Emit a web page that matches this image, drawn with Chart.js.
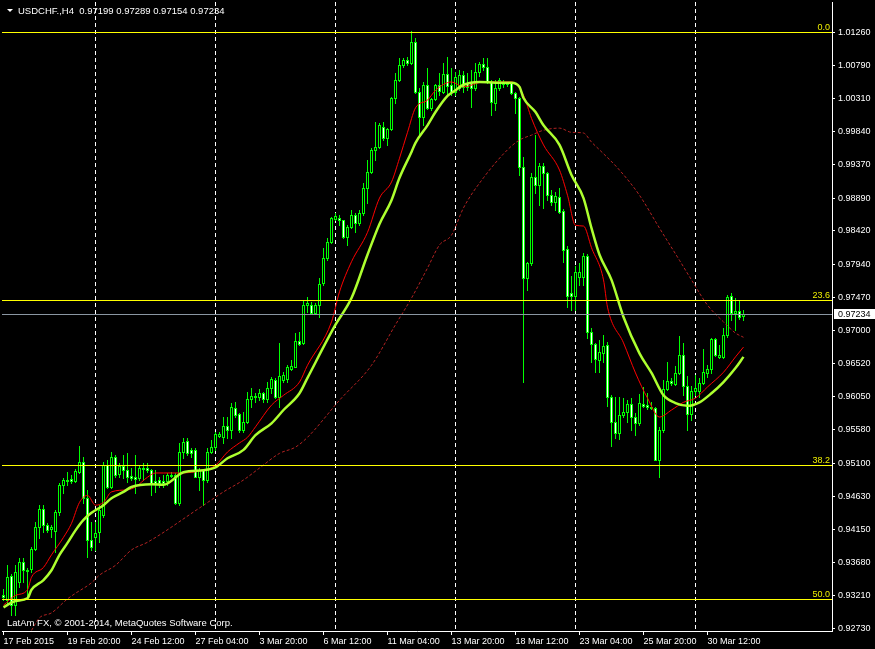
<!DOCTYPE html>
<html>
<head>
<meta charset="utf-8">
<script src="https://cdn.jsdelivr.net/npm/chart.js@4.4.1/dist/chart.umd.min.js"></script>
<style>
    html, body { margin: 0; padding: 0; background: #000; }
    #wrap { width: 875px; height: 649px; }
</style>
</head>
<body>
<div id="wrap"><canvas id="priceChart" width="875" height="649"></canvas></div>
<script>
const symbolName = 'USDCHF.,H4';
const copyrightText = 'LatAm FX, \u00a9 2001-2014, MetaQuotes Software Corp.';

// H4 candles, one entry per bar
const open = [
    0.9321, 0.9314, 0.9349, 0.9307, 0.9340, 0.9369, 0.9357, 0.9359, 0.9387, 0.9419,
    0.9444, 0.9421, 0.9416, 0.9413, 0.9440, 0.9479, 0.9486, 0.9487, 0.9484, 0.9497,
    0.9512, 0.9460, 0.9400, 0.9404, 0.9411, 0.9436, 0.9507, 0.9476, 0.9519, 0.9494,
    0.9506, 0.9500, 0.9492, 0.9490, 0.9489, 0.9503, 0.9503, 0.9500, 0.9484, 0.9486,
    0.9484, 0.9484, 0.9493, 0.9493, 0.9453, 0.9526, 0.9542, 0.9529, 0.9529, 0.9490,
    0.9500, 0.9486, 0.9526, 0.9533, 0.9549, 0.9547, 0.9563, 0.9557, 0.9589, 0.9580,
    0.9557, 0.9569, 0.9602, 0.9606, 0.9604, 0.9610, 0.9602, 0.9617, 0.9629, 0.9604,
    0.9629, 0.9630, 0.9645, 0.9647, 0.9685, 0.9682, 0.9736, 0.9736, 0.9725, 0.9736,
    0.9767, 0.9803, 0.9826, 0.9859, 0.9860, 0.9857, 0.9833, 0.9848, 0.9865, 0.9853,
    0.9868, 0.9903, 0.9926, 0.9958, 0.9962, 0.9991, 0.9975, 0.9988, 1.0032, 1.0058,
    1.0079, 1.0086, 1.0082, 1.0112, 1.0041, 1.0005, 1.0051, 1.0018, 1.0031, 1.0051,
    1.0041, 1.0066, 1.0051, 1.0041, 1.0046, 1.0065, 1.0054, 1.0054, 1.0046, 1.0069,
    1.0081, 1.0076, 1.0055, 1.0025, 1.0046, 1.0055, 1.0054, 1.0054, 1.0039, 1.0032,
    0.9933, 0.9775, 0.9796, 0.9919, 0.9908, 0.9935, 0.9925, 0.9893, 0.9883, 0.9890,
    0.9870, 0.9816, 0.9753, 0.9749, 0.9776, 0.9776, 0.9806, 0.9698, 0.9680, 0.9658,
    0.9667, 0.9679, 0.9605, 0.9569, 0.9553, 0.9579, 0.9583, 0.9594, 0.9576, 0.9567,
    0.9594, 0.9593, 0.9590, 0.9589, 0.9514, 0.9557, 0.9616, 0.9627, 0.9623, 0.9639,
    0.9665, 0.9620, 0.9580, 0.9613, 0.9613, 0.9625, 0.9639, 0.9645, 0.9687, 0.9662,
    0.9662, 0.9693, 0.9749, 0.9725, 0.9727, 0.97199
];
const high = [
    0.9330, 0.9364, 0.9351, 0.9364, 0.9374, 0.9374, 0.9360, 0.9390, 0.9426, 0.9450,
    0.9450, 0.9424, 0.9421, 0.9443, 0.9482, 0.9489, 0.9497, 0.9493, 0.9502, 0.9534,
    0.9519, 0.9472, 0.9426, 0.9426, 0.9450, 0.9512, 0.9514, 0.9526, 0.9522, 0.9510,
    0.9522, 0.9524, 0.9503, 0.9522, 0.9507, 0.9510, 0.9510, 0.9502, 0.9500, 0.9490,
    0.9493, 0.9496, 0.9497, 0.9496, 0.9539, 0.9546, 0.9546, 0.9532, 0.9532, 0.9503,
    0.9502, 0.9532, 0.9543, 0.9555, 0.9555, 0.9576, 0.9576, 0.9596, 0.9597, 0.9582,
    0.9583, 0.9612, 0.9617, 0.9610, 0.9616, 0.9612, 0.9626, 0.9633, 0.9632, 0.9682,
    0.9640, 0.9650, 0.9657, 0.9696, 0.9697, 0.9743, 0.9748, 0.9740, 0.9739, 0.9775,
    0.9818, 0.9832, 0.9862, 0.9868, 0.9865, 0.9858, 0.9850, 0.9872, 0.9868, 0.9872,
    0.9911, 0.9943, 0.9961, 0.9998, 0.9996, 0.9998, 0.9989, 1.0034, 1.0068, 1.0089,
    1.0089, 1.0091, 1.0128, 1.0118, 1.0046, 1.0055, 1.0075, 1.0032, 1.0052, 1.0068,
    1.0082, 1.0090, 1.0075, 1.0069, 1.0072, 1.0071, 1.0068, 1.0072, 1.0082, 1.0084,
    1.0089, 1.0089, 1.0058, 1.0058, 1.0061, 1.0058, 1.0055, 1.0055, 1.0041, 1.0034,
    0.9948, 0.9798, 0.9925, 0.9979, 0.9939, 0.9939, 0.9926, 0.9901, 0.9898, 0.9903,
    0.9873, 0.9820, 0.9778, 0.9792, 0.9796, 0.9810, 0.9809, 0.9703, 0.9682, 0.9686,
    0.9693, 0.9683, 0.9607, 0.9604, 0.9604, 0.9603, 0.9600, 0.9603, 0.9582, 0.9609,
    0.9619, 0.9610, 0.9597, 0.9590, 0.9562, 0.9629, 0.9655, 0.9632, 0.9649, 0.9692,
    0.9682, 0.9635, 0.9620, 0.9636, 0.9632, 0.9673, 0.9650, 0.9689, 0.9689, 0.9679,
    0.9703, 0.9750, 0.9753, 0.9746, 0.9743, 0.97289
];
const low = [
    0.9314, 0.9307, 0.9293, 0.9293, 0.9333, 0.9340, 0.9317, 0.9354, 0.9386, 0.9403,
    0.9411, 0.9411, 0.9404, 0.9383, 0.9436, 0.9467, 0.9479, 0.9482, 0.9483, 0.9496,
    0.9453, 0.9376, 0.9386, 0.9386, 0.9397, 0.9433, 0.9474, 0.9474, 0.9490, 0.9490,
    0.9489, 0.9483, 0.9486, 0.9467, 0.9486, 0.9486, 0.9497, 0.9464, 0.9469, 0.9476,
    0.9476, 0.9479, 0.9490, 0.9451, 0.9450, 0.9517, 0.9522, 0.9519, 0.9490, 0.9472,
    0.9450, 0.9483, 0.9524, 0.9529, 0.9547, 0.9539, 0.9546, 0.9546, 0.9576, 0.9555,
    0.9555, 0.9567, 0.9590, 0.9597, 0.9600, 0.9597, 0.9597, 0.9610, 0.9603, 0.9590,
    0.9626, 0.9626, 0.9643, 0.9647, 0.9679, 0.9680, 0.9726, 0.9725, 0.9723, 0.9719,
    0.9765, 0.9801, 0.9825, 0.9857, 0.9850, 0.9832, 0.9822, 0.9846, 0.9840, 0.9850,
    0.9865, 0.9882, 0.9925, 0.9943, 0.9961, 0.9972, 0.9965, 0.9986, 1.0025, 1.0056,
    1.0076, 1.0079, 1.0080, 1.0039, 0.9979, 0.9994, 1.0016, 1.0015, 1.0029, 1.0036,
    1.0039, 1.0036, 1.0036, 1.0036, 1.0043, 1.0041, 1.0043, 1.0019, 1.0043, 1.0064,
    1.0072, 1.0054, 1.0008, 1.0015, 1.0043, 1.0048, 1.0049, 1.0038, 1.0011, 0.9922,
    0.9626, 0.9758, 0.9793, 0.9896, 0.9879, 0.9875, 0.9886, 0.9879, 0.9872, 0.9868,
    0.9798, 0.9733, 0.9729, 0.9729, 0.9765, 0.9765, 0.9689, 0.9655, 0.9640, 0.9640,
    0.9655, 0.9592, 0.9534, 0.9546, 0.9544, 0.9576, 0.9569, 0.9557, 0.9550, 0.9565,
    0.9590, 0.9587, 0.9587, 0.9514, 0.9490, 0.9555, 0.9614, 0.9622, 0.9622, 0.9637,
    0.9607, 0.9557, 0.9572, 0.9607, 0.9605, 0.9623, 0.9633, 0.9639, 0.9663, 0.9660,
    0.9660, 0.9690, 0.9715, 0.9700, 0.9716, 0.97154
];
const close = [
    0.9318, 0.9347, 0.9307, 0.9354, 0.9369, 0.9357, 0.9356, 0.9387, 0.9419, 0.9444,
    0.9421, 0.9414, 0.9419, 0.9440, 0.9479, 0.9486, 0.9484, 0.9484, 0.9499, 0.9512,
    0.9460, 0.9400, 0.9390, 0.9410, 0.9443, 0.9507, 0.9476, 0.9519, 0.9493, 0.9506,
    0.9500, 0.9490, 0.9489, 0.9487, 0.9503, 0.9502, 0.9500, 0.9482, 0.9482, 0.9482,
    0.9482, 0.9493, 0.9492, 0.9453, 0.9526, 0.9540, 0.9524, 0.9524, 0.9490, 0.9500,
    0.9486, 0.9526, 0.9533, 0.9552, 0.9552, 0.9563, 0.9557, 0.9590, 0.9579, 0.9557,
    0.9569, 0.9602, 0.9606, 0.9604, 0.9610, 0.9602, 0.9617, 0.9630, 0.9604, 0.9635,
    0.9636, 0.9647, 0.9649, 0.9685, 0.9680, 0.9736, 0.9739, 0.9725, 0.9736, 0.9766,
    0.9803, 0.9826, 0.9860, 0.9863, 0.9857, 0.9833, 0.9848, 0.9865, 0.9853, 0.9868,
    0.9903, 0.9926, 0.9958, 0.9962, 0.9993, 0.9975, 0.9988, 1.0032, 1.0058, 1.0079,
    1.0086, 1.0082, 1.0112, 1.0041, 1.0005, 1.0051, 1.0018, 1.0031, 1.0051, 1.0042,
    1.0066, 1.0049, 1.0041, 1.0062, 1.0065, 1.0048, 1.0048, 1.0046, 1.0069, 1.0081,
    1.0076, 1.0055, 1.0026, 1.0046, 1.0058, 1.0052, 1.0052, 1.0039, 1.0032, 0.9933,
    0.9775, 0.9796, 0.9919, 0.9908, 0.9935, 0.9925, 0.9893, 0.9883, 0.9892, 0.9869,
    0.9815, 0.9749, 0.9749, 0.9783, 0.9783, 0.9806, 0.9698, 0.9680, 0.9659, 0.9669,
    0.9677, 0.9605, 0.9569, 0.9553, 0.9579, 0.9583, 0.9594, 0.9576, 0.9567, 0.9596,
    0.9592, 0.9590, 0.9589, 0.9515, 0.9557, 0.9616, 0.9627, 0.9625, 0.9639, 0.9665,
    0.9620, 0.9580, 0.9613, 0.9617, 0.9625, 0.9640, 0.9645, 0.9687, 0.9665, 0.9665,
    0.9693, 0.9747, 0.9725, 0.9727, 0.9719, 0.97234
];

// moving averages, read at selected bars
const maGreenIdx = [0, 3, 6, 7, 10, 12, 14, 16, 18, 20, 22, 25, 27, 30, 32, 37, 40, 45, 50, 53, 56, 60, 63, 67, 70, 74, 76, 83, 87, 91, 94, 97, 99, 102, 103, 106, 108, 111, 113, 115, 119, 123, 127, 129, 130, 133, 135, 139, 142, 145, 147, 149, 152, 155, 159, 162, 165, 168, 171, 174, 177, 180, 183, 185];
const maGreenVal = [0.9304, 0.9313, 0.9317, 0.9329, 0.9343, 0.9357, 0.9379, 0.9396, 0.9414, 0.9429, 0.9439, 0.9450, 0.9460, 0.9469, 0.9476, 0.9480, 0.9479, 0.9497, 0.9500, 0.9504, 0.9517, 0.9529, 0.9550, 0.9567, 0.9586, 0.9610, 0.9632, 0.9708, 0.9746, 0.9808, 0.9852, 0.9886, 0.9918, 0.9955, 0.9968, 0.9993, 1.0012, 1.0035, 1.0043, 1.0051, 1.0055, 1.0054, 1.0054, 1.0048, 1.0032, 1.0012, 0.9993, 0.9965, 0.9922, 0.9889, 0.9846, 0.9808, 0.9772, 0.9719, 0.9667, 0.9639, 0.9607, 0.9596, 0.9592, 0.9597, 0.9610, 0.9626, 0.9646, 0.9662];

const maRedIdx = [0, 3, 6, 7, 10, 12, 15, 17, 19, 21, 23, 25, 27, 31, 33, 36, 38, 40, 44, 50, 53, 56, 59, 61, 63, 67, 70, 74, 76, 82, 84, 87, 91, 94, 97, 99, 101, 103, 106, 108, 112, 115, 120, 127, 130, 132, 135, 139, 141, 143, 145, 147, 150, 151, 155, 158, 161, 164, 167, 170, 173, 176, 180, 183, 185];
const maRedVal = [0.9307, 0.9321, 0.9329, 0.9347, 0.9361, 0.9379, 0.9404, 0.9424, 0.9454, 0.9464, 0.9450, 0.9454, 0.9469, 0.9472, 0.9476, 0.9490, 0.9496, 0.9496, 0.9496, 0.9500, 0.9507, 0.9526, 0.9539, 0.9547, 0.9562, 0.9593, 0.9607, 0.9626, 0.9650, 0.9712, 0.9755, 0.9798, 0.9840, 0.9889, 0.9912, 0.9946, 0.9983, 1.0018, 1.0029, 1.0043, 1.0055, 1.0048, 1.0055, 1.0055, 1.0036, 1.0003, 0.9965, 0.9929, 0.9893, 0.9850, 0.9849, 0.9818, 0.9772, 0.9733, 0.9682, 0.9639, 0.9603, 0.9576, 0.9586, 0.9597, 0.9603, 0.9619, 0.9640, 0.9662, 0.9676];

const maSlowIdx = [7, 9, 12, 16, 18, 22, 24, 28, 32, 36, 49, 55, 60, 64, 69, 73, 76, 84, 92, 98, 102, 106, 109, 112, 115, 120, 126, 129, 132, 135, 139, 142, 145, 147, 149, 154, 159, 164, 169, 172, 176, 180, 183, 185];
const maSlowVal = [0.9271, 0.9289, 0.9296, 0.9316, 0.9324, 0.9339, 0.9350, 0.9364, 0.9386, 0.9397, 0.9446, 0.9469, 0.9486, 0.9503, 0.9524, 0.9533, 0.9547, 0.9600, 0.9650, 0.9708, 0.9746, 0.9789, 0.9822, 0.9836, 0.9875, 0.9918, 0.9958, 0.9972, 0.9979, 0.9986, 0.9989, 0.9983, 0.9982, 0.9969, 0.9958, 0.9929, 0.9893, 0.9846, 0.9800, 0.9772, 0.9736, 0.9712, 0.9696, 0.9690];

const priceTicks = [0.92730, 0.93210, 0.93680, 0.94150, 0.94630, 0.95100, 0.95580, 0.96050, 0.96520, 0.97000, 0.97470, 0.97940, 0.98420, 0.98890, 0.99370, 0.99840, 1.00310, 1.00790, 1.01260];
const timeTickIdx = [0, 16, 32, 48, 64, 80, 96, 112, 128, 144, 160, 176];
const timeTickLabels = ['17 Feb 2015', '19 Feb 20:00', '24 Feb 12:00', '27 Feb 04:00', '3 Mar 20:00', '6 Mar 12:00', '11 Mar 04:00', '13 Mar 20:00', '18 Mar 12:00', '23 Mar 04:00', '25 Mar 20:00', '30 Mar 12:00'];
const weekGridIdx = [23, 53, 83, 113, 143, 173];

const fibLabels = ['0.0', '23.6', '38.2', '50.0'];
const fibPrices = [1.01265, 0.97439, 0.95072, 0.93159];

const lastIdx = close.length - 1;
const axisFont = { family: 'Liberation Sans', size: 9 };

function toPoints(idx, val) {
    return idx.map((v, i) => ({ x: v, y: val[i] }));
}

const candlePlugin = {
    id: 'candles',
    beforeDatasetsDraw(chart) {
        const { ctx, chartArea, scales } = chart;
        const x = scales.x, y = scales.y;
        ctx.save();

        ctx.strokeStyle = '#ffffff';
        ctx.lineWidth = 1;
        ctx.setLineDash([4, 3]);
        weekGridIdx.forEach(i => {
            const px = Math.floor(x.getPixelForValue(i)) + 0.5;
            ctx.beginPath();
            ctx.moveTo(px, chartArea.top);
            ctx.lineTo(px, chartArea.bottom);
            ctx.stroke();
        });
        ctx.setLineDash([]);

        for (let i = 0; i < close.length; i++) {
            const cx = Math.floor(x.getPixelForValue(i));
            const yo = Math.round(y.getPixelForValue(open[i]));
            const yc = Math.round(y.getPixelForValue(close[i]));
            const yh = Math.round(y.getPixelForValue(high[i]));
            const yl = Math.round(y.getPixelForValue(low[i]));
            const top = Math.min(yo, yc), bot = Math.max(yo, yc);
            ctx.fillStyle = '#00ff00';
            ctx.fillRect(cx, yh, 1, yl - yh + 1);
            ctx.fillRect(cx - 1, top, 3, bot - top + 1);
            if (bot - top >= 2) {
                ctx.fillStyle = close[i] < open[i] ? '#ffffff' : '#000000';
                ctx.fillRect(cx, top + 1, 1, bot - top - 1);
            }
        }
        ctx.restore();
    },
    afterDatasetsDraw(chart) {
        const { ctx, chartArea, scales } = chart;
        const y = scales.y;
        ctx.save();
        ctx.lineWidth = 1;

        ctx.font = '9px "Liberation Sans"';
        ctx.textAlign = 'right';
        ctx.textBaseline = 'alphabetic';
        fibPrices.forEach((p, i) => {
            const py = Math.round(y.getPixelForValue(p)) + 0.5;
            ctx.strokeStyle = '#ffff00';
            ctx.beginPath();
            ctx.moveTo(chartArea.left, py);
            ctx.lineTo(chartArea.right, py);
            ctx.stroke();
            ctx.fillStyle = '#f0f000';
            ctx.fillText(fibLabels[i], chartArea.right - 2, py - 2.5);
        });

        const cp = Math.round(y.getPixelForValue(close[lastIdx])) + 0.5;
        ctx.strokeStyle = '#8a96a2';
        ctx.beginPath();
        ctx.moveTo(chartArea.left, cp);
        ctx.lineTo(chartArea.right, cp);
        ctx.stroke();
        ctx.restore();
    },
    afterDraw(chart) {
        const { ctx, chartArea, scales } = chart;
        const y = scales.y;
        ctx.save();
        const cp = Math.round(y.getPixelForValue(close[lastIdx]));
        ctx.fillStyle = '#ffffff';
        ctx.fillRect(chartArea.right + 2, cp - 5, 875 - chartArea.right - 2, 10);
        ctx.fillStyle = '#000000';
        ctx.font = '9px "Liberation Sans"';
        ctx.textBaseline = 'middle';
        ctx.textAlign = 'left';
        ctx.fillText(close[lastIdx].toFixed(5), chartArea.right + 6, cp + 0.5);

        ctx.fillStyle = '#ffffff';
        ctx.beginPath();
        ctx.moveTo(7, 9);
        ctx.lineTo(13, 9);
        ctx.lineTo(10, 12);
        ctx.closePath();
        ctx.fill();
        ctx.font = '9.5px "Liberation Sans"';
        ctx.textBaseline = 'alphabetic';
        const head = symbolName + '  ' + [open[lastIdx], high[lastIdx], low[lastIdx], close[lastIdx]].map(v => v.toFixed(5)).join(' ');
        ctx.fillText(head, 18, 14);
        ctx.fillText(copyrightText, 7, 626);
        ctx.restore();
    }
};

const chartEl = document.getElementById('priceChart');

new Chart(chartEl, {
    type: 'line',
    data: {
        datasets: [{
            label: 'MA green',
            data: toPoints(maGreenIdx, maGreenVal),
            borderColor: '#adff2f',
            borderWidth: 2.5,
            pointRadius: 0,
            cubicInterpolationMode: 'monotone'
        }, {
            label: 'MA red',
            data: toPoints(maRedIdx, maRedVal),
            borderColor: '#ff0000',
            borderWidth: 1,
            pointRadius: 0,
            cubicInterpolationMode: 'monotone'
        }, {
            label: 'MA slow',
            data: toPoints(maSlowIdx, maSlowVal),
            borderColor: '#b22222',
            borderWidth: 1,
            borderDash: [3, 2],
            pointRadius: 0,
            cubicInterpolationMode: 'monotone'
        }]
    },
    options: {
        responsive: false,
        animation: false,
        events: [],
        layout: { padding: { left: 2, top: 2, right: 0, bottom: 0 } },
        plugins: {
            legend: { display: false },
            tooltip: { enabled: false }
        },
        scales: {
            x: {
                type: 'linear',
                position: 'bottom',
                min: -0.375,
                max: 207.125,
                afterBuildTicks: scale => { scale.ticks = timeTickIdx.map(v => ({ value: v })); },
                afterFit: scale => { scale.height = 18; scale.paddingLeft = 0; scale.paddingRight = 0; },
                grid: { drawOnChartArea: false, drawTicks: true, tickLength: 4, color: '#ffffff' },
                border: { display: true, color: '#ffffff', width: 1 },
                ticks: {
                    color: '#ffffff',
                    font: axisFont,
                    align: 'start',
                    maxRotation: 0,
                    autoSkip: false,
                    padding: 1,
                    callback: (v, i) => timeTickLabels[i]
                }
            },
            y: {
                position: 'right',
                min: 0.92701,
                max: 1.01693,
                afterBuildTicks: scale => { scale.ticks = priceTicks.map(v => ({ value: v })); },
                afterFit: scale => { scale.width = 43; scale.paddingTop = 0; scale.paddingBottom = 0; },
                grid: { drawOnChartArea: false, drawTicks: true, tickLength: 3, color: '#ffffff' },
                border: { display: true, color: '#ffffff', width: 1 },
                ticks: {
                    color: '#ffffff',
                    font: axisFont,
                    padding: 3,
                    callback: v => v.toFixed(5)
                }
            }
        }
    },
    plugins: [candlePlugin]
});
</script>
</body>
</html>
